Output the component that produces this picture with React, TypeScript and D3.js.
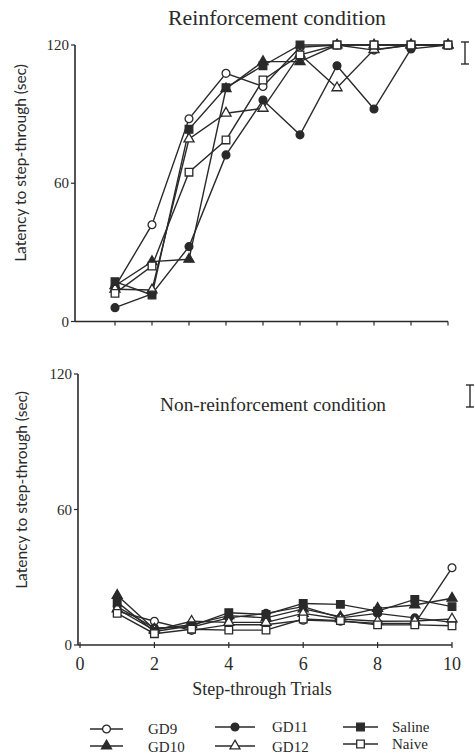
import React from "react";
import * as d3 from "d3";

const trials = [1, 2, 3, 4, 5, 6, 7, 8, 9, 10];
const groups = ["GD9", "GD10", "GD11", "GD12", "Saline", "Naive"];

// Reinforcement condition (latency, sec)
const reinfGD9 = [15, 42, 88, 107.7, 102, 119, 120, 117.8, 120, 120];
const reinfGD10 = [15.5, 26, 27, 101, 112.8, 112.8, 120, 120, 120, 120];
const reinfGD11 = [6, 12, 32.5, 72.3, 96.1, 81, 111, 92.2, 118.3, 120];
const reinfGD12 = [14, 13.7, 79.2, 90.4, 92.5, 116, 101.4, 118, 120, 120];
const reinfSaline = [17.3, 11.5, 83.4, 101.5, 111, 120, 120, 120, 120, 120];
const reinfNaive = [12.2, 24.1, 64.8, 78.8, 104.8, 115.7, 120, 120, 120, 120];

// Non-reinforcement condition (latency, sec)
const nonGD9 = [15, 10.5, 6.5, 9, 9, 11, 10.5, 9.5, 9.5, 34.2];
const nonGD10 = [22, 7, 9, 13, 12, 16, 12.5, 16.2, 17.7, 20.7];
const nonGD11 = [17, 7.5, 8, 12, 14, 17, 12, 14, 12, 10];
const nonGD12 = [16, 6.5, 10.5, 10, 10, 14, 11.5, 10.5, 10.6, 11.5];
const nonSaline = [19, 6, 8.5, 14.3, 13.5, 18.4, 18, 15, 20.2, 17];
const nonNaive = [14, 5, 7, 6.6, 6.6, 11.5, 10.8, 8.9, 8.9, 8.5];

const yTicks = [0, 60, 120];
const xTickLabels = [0, 2, 4, 6, 8, 10];

const reinfSeries = [reinfGD9, reinfGD10, reinfGD11, reinfGD12, reinfSaline, reinfNaive];
const nonSeries = [nonGD9, nonGD10, nonGD11, nonGD12, nonSaline, nonNaive];

const INK = "#2a2a2a";
const SERIF = "'Liberation Serif', 'Times New Roman', serif";
const SANS = "Lato, 'Open Sans', sans-serif";

type MarkerKind = { shape: d3.SymbolType; filled: boolean; size: number };
const markers: MarkerKind[] = [
  { shape: d3.symbolCircle, filled: false, size: 48 },
  { shape: d3.symbolTriangle, filled: true, size: 44 },
  { shape: d3.symbolCircle, filled: true, size: 48 },
  { shape: d3.symbolTriangle, filled: false, size: 44 },
  { shape: d3.symbolSquare, filled: true, size: 58 },
  { shape: d3.symbolSquare, filled: false, size: 58 },
];

function Marker({ k, x, y }: { k: number; x: number; y: number }) {
  const m = markers[k];
  const path = d3.symbol().type(m.shape).size(m.size)() as string;
  return (
    <path
      d={path}
      transform={`translate(${x},${y})`}
      fill={m.filled ? INK : "#fff"}
      stroke={INK}
      strokeWidth={1.3}
    />
  );
}

function Panel({
  series,
  x,
  y,
  axisX,
  title,
  titleX,
  titleY,
  titleLen,
  titleSize,
  showXLabels,
  err,
}: {
  series: number[][];
  x: d3.ScaleLinear<number, number>;
  y: d3.ScaleLinear<number, number>;
  axisX: number;
  title: string;
  titleX: number;
  titleY: number;
  titleLen: number;
  titleSize: number;
  showXLabels: boolean;
  err: { x: number; y1: number; y2: number };
}) {
  const line = d3
    .line<number>()
    .x((_, i) => x(trials[i]))
    .y((d) => y(d));
  const [y0, y1] = y.range();
  const xEnd = x(10);
  return (
    <g>
      <line x1={axisX} x2={axisX} y1={y1} y2={y0} stroke={INK} strokeWidth={1.6} />
      <line x1={axisX} x2={xEnd} y1={y0} y2={y0} stroke={INK} strokeWidth={1.6} />
      {yTicks.map((t) => (
        <g key={t}>
          <line x1={axisX - 4} x2={axisX} y1={y(t)} y2={y(t)} stroke={INK} strokeWidth={1.2} />
          <text
            x={axisX - 6}
            y={y(t) + 5}
            textAnchor="end"
            fontFamily={SERIF}
            fontSize={15}
            fill={INK}
          >
            {t}
          </text>
        </g>
      ))}
      {showXLabels
        ? xTickLabels.map((t) => (
            <g key={t}>
              <line x1={x(t)} x2={x(t)} y1={y0 - 3} y2={y0 + 3} stroke={INK} strokeWidth={1.2} />
              <text
                x={x(t)}
                y={y0 + 25}
                textAnchor="middle"
                fontFamily={SERIF}
                fontSize={18}
                fill={INK}
              >
                {t}
              </text>
            </g>
          ))
        : trials.map((t) => (
            <line key={t} x1={x(t)} x2={x(t)} y1={y0} y2={y0 + 4} stroke={INK} strokeWidth={1.2} />
          ))}
      <text
        x={titleX}
        y={titleY}
        fontFamily={SERIF}
        fontSize={titleSize}
        fill={INK}
        textLength={titleLen}
        lengthAdjust="spacingAndGlyphs"
      >
        {title}
      </text>
      <g stroke={INK} strokeWidth={1.4}>
        <line x1={err.x} x2={err.x} y1={err.y1} y2={err.y2} />
        <line x1={err.x - 4} x2={err.x + 4} y1={err.y1} y2={err.y1} />
        <line x1={err.x - 4} x2={err.x + 4} y1={err.y2} y2={err.y2} />
      </g>
      {series.map((s, k) => (
        <path key={k} d={line(s) as string} fill="none" stroke={INK} strokeWidth={1.4} />
      ))}
      {series.map((s, k) =>
        s.map((v, i) => <Marker key={`${k}-${i}`} k={k} x={x(trials[i])} y={y(v)} />)
      )}
    </g>
  );
}

const legendPos = [
  { x1: 90, x2: 123, y: 729, tx: 148, fy: 734 },
  { x1: 90, x2: 123, y: 746, tx: 148, fy: 752 },
  { x1: 215, x2: 255, y: 727, tx: 272, fy: 732 },
  { x1: 215, x2: 255, y: 746, tx: 272, fy: 752 },
  { x1: 343, x2: 378, y: 727, tx: 392, fy: 732 },
  { x1: 343, x2: 378, y: 744, tx: 392, fy: 749 },
];

export default function App() {
  const xTop = d3.scaleLinear().domain([0, 10]).range([78, 448]);
  const yTop = d3.scaleLinear().domain([0, 120]).range([321.5, 45]);
  const xBot = d3.scaleLinear().domain([0, 10]).range([80, 452]);
  const yBot = d3.scaleLinear().domain([0, 120]).range([645, 374]);

  return (
    <svg
      width={475}
      height={755}
      viewBox="0 0 475 755"
      style={{ position: "absolute", left: 0, top: 0, background: "#fff" }}
    >
      <rect x={0} y={0} width={475} height={755} fill="#fff" />
      <Panel
        series={reinfSeries}
        x={xTop}
        y={yTop}
        axisX={75}
        title="Reinforcement condition"
        titleX={168}
        titleY={25}
        titleLen={218}
        titleSize={20}
        showXLabels={false}
        err={{ x: 465, y1: 42, y2: 64 }}
      />
      <Panel
        series={nonSeries}
        x={xBot}
        y={yBot}
        axisX={78}
        title="Non-reinforcement condition"
        titleX={160}
        titleY={411}
        titleLen={226}
        titleSize={19}
        showXLabels={true}
        err={{ x: 470, y1: 385, y2: 407 }}
      />
      <text
        transform="translate(26,163) rotate(-90)"
        textAnchor="middle"
        fontFamily={SANS}
        fontSize={15.5}
        fill={INK}
      >
        Latency to step-through (sec)
      </text>
      <text
        transform="translate(27,490) rotate(-90)"
        textAnchor="middle"
        fontFamily={SANS}
        fontSize={15.5}
        fill={INK}
      >
        Latency to step-through (sec)
      </text>
      <text x={262} y={695} textAnchor="middle" fontFamily={SERIF} fontSize={18} fill={INK}>
        Step-through Trials
      </text>
      {groups.map((g, k) => {
        const p = legendPos[k];
        return (
          <g key={g}>
            <line x1={p.x1} x2={p.x2} y1={p.y} y2={p.y} stroke={INK} strokeWidth={1.3} />
            <Marker k={k} x={(p.x1 + p.x2) / 2} y={p.y} />
            <text x={p.tx} y={p.fy} fontFamily={SERIF} fontSize={15} fill={INK}>
              {g}
            </text>
          </g>
        );
      })}
    </svg>
  );
}
